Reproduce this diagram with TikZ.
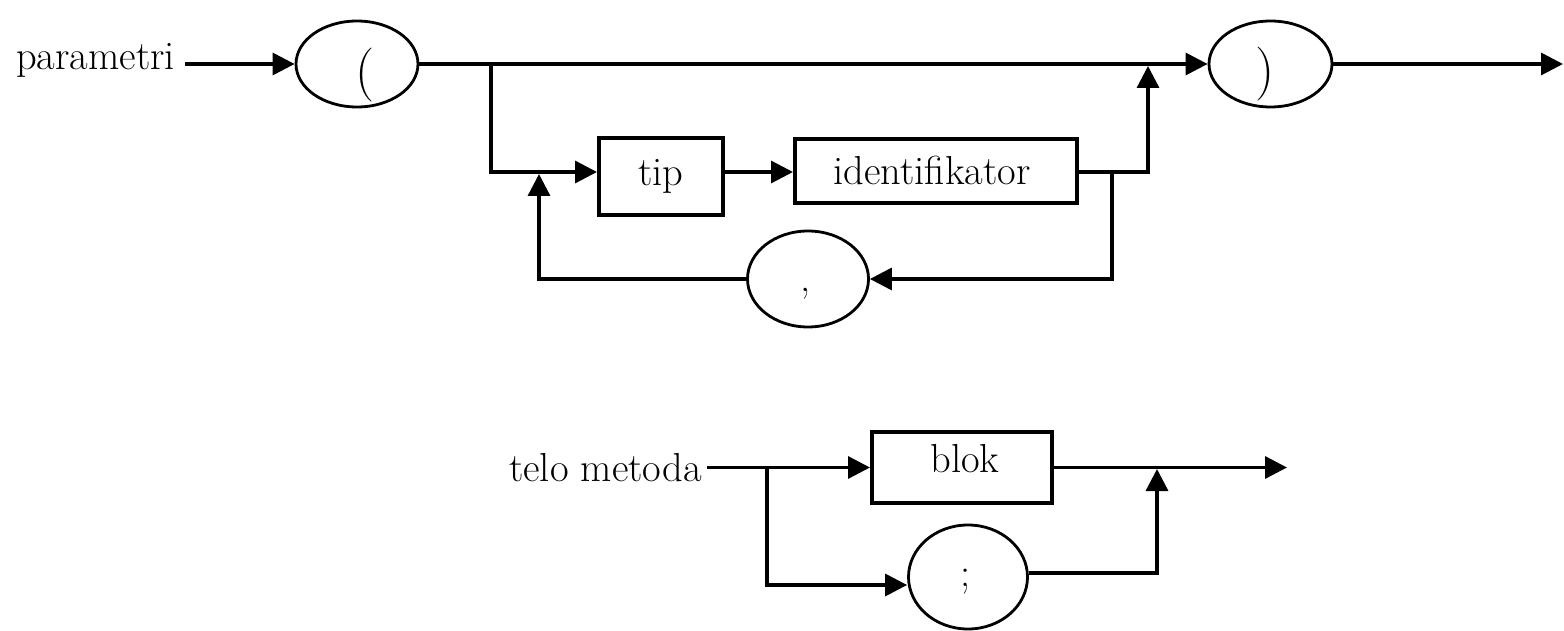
\documentclass[tikz,border=0pt]{standalone}
\usetikzlibrary{arrows.meta,shapes.geometric}
\begin{document}
\begin{tikzpicture}[x=1pt,y=-1pt,
  conn/.style={line width=3.3pt},
  arr/.style={conn,-{Triangle[length=22pt,width=22pt]}},
  box/.style={draw,line width=4pt,inner sep=0pt},
  oval/.style={draw,ellipse,line width=2.8pt,inner sep=0pt},
  lbl/.style={font=\fontsize{40.5}{44}\selectfont,inner sep=0pt,anchor=base},
  paren/.style={font=\fontsize{54}{58}\selectfont,inner sep=0pt,anchor=base}]
\useasboundingbox (0,0) rectangle (1564,631);
% top diagram
\node[lbl,anchor=base east] (parametri) at (175,70) {parametri};
\node[oval,minimum width=122pt,minimum height=86pt] (lp) at (357,64) {};
\node[paren] (lpt) at (365,88.5) {(};
\node[oval,minimum width=123pt,minimum height=86pt] (rp) at (1270.5,64) {};
\node[paren] (rpt) at (1265,88) {)};
\coordinate (out1) at (1563,64);
\node[box,minimum width=124pt,minimum height=77pt] (tip) at (661,176.5) {};
\node[lbl] (tipt) at (661,185.5) {tip};
\node[box,minimum width=282pt,minimum height=64pt] (id) at (936,171) {};
\node[lbl] (idt) at (932,185) {identifikator};
\node[oval,minimum width=121pt,minimum height=96pt] (cm) at (808,279) {};
\node[lbl] (cmt) at (806,291) {,};
\coordinate (j1) at (491,64);
\coordinate (r2) at (0,172);
\coordinate (j2) at (1148,66);
\coordinate (sp1) at (1112,172);
\coordinate (j4) at (539,174);
\draw[arr] ([xshift=10pt]parametri.east |- lp.west) -- (lp.west);
\draw[arr] (lp.east) -- (rp.west);
\draw[arr] (rp.east) -- (out1);
\draw[arr] (j1) |- (tip.west |- r2);
\draw[arr] (tip.east |- r2) -- (id.west |- r2);
\draw[arr] (id.east |- r2) -| (j2);
\draw[arr] (sp1) |- (cm.east);
\draw[arr] (cm.west) -| (j4);
% bottom diagram
\node[lbl,anchor=base east] (telo) at (702,481) {telo metoda};
\node[box,minimum width=180pt,minimum height=71pt] (blok) at (962,467.5) {};
\node[lbl] (blokt) at (965,472) {blok};
\node[oval,minimum width=119pt,minimum height=104pt] (sc) at (968,577) {};
\node[lbl] (sct) at (966,586) {;};
\coordinate (j3) at (767,468);
\coordinate (out2) at (1287,467.5);
\coordinate (j5) at (1157,469);
\coordinate (r5) at (0,585);
\coordinate (r6) at (0,573);
\draw[arr] ([xshift=5pt]telo.east |- blok.west) -- (blok.west);
\draw[arr] (j3) |- (sc.west |- r5);
\draw[arr] (blok.east) -- (out2);
\draw[arr] (sc.east |- r6) -| (j5);
\end{tikzpicture}
\end{document}
